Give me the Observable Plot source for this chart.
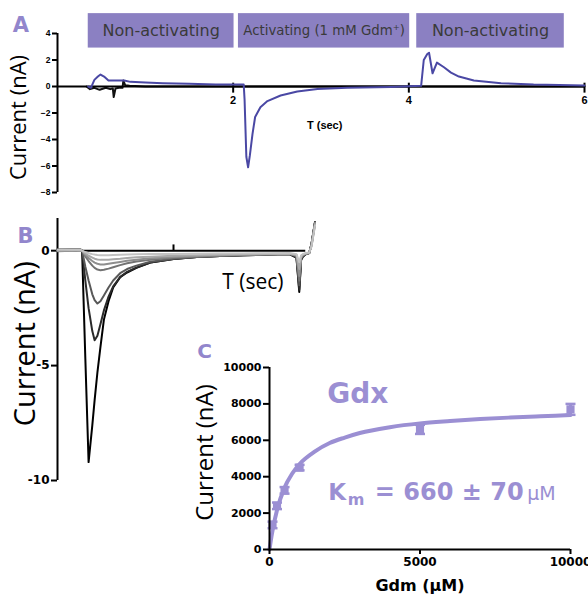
<!DOCTYPE html>
<html><head><meta charset="utf-8">
<script src="https://cdn.jsdelivr.net/npm/d3@7"></script>
<script src="https://cdn.jsdelivr.net/npm/@observablehq/plot@0.6"></script>
<style>
body{margin:0;background:#fff;}
#wrap{position:relative;width:588px;height:596px;overflow:hidden;background:#fff;}
#wrap svg{position:absolute;max-width:none;}
</style></head><body><div id="wrap"></div>
<script>
// ---------- Panel A data ----------
const phaseLabels = ["Non-activating", "Activating (1 mM Gdm⁺)", "Non-activating"];
const phaseStart = [0.35, 2.06, 4.09];
const phaseEnd = [2.01, 4.01, 5.77];
const aTimeGdm = [0.35, 0.38, 0.42, 0.46, 0.49, 0.53, 0.58, 0.65, 0.76, 0.83, 1.0, 1.2, 1.5, 1.8, 2.12, 2.13, 2.15, 2.17, 2.19, 2.22, 2.25, 2.31, 2.39, 2.54, 2.73, 2.96, 3.3, 3.8, 4.14, 4.17, 4.21, 4.23, 4.27, 4.32, 4.4, 4.48, 4.57, 4.74, 5.05, 5.42, 6.0];
const aCurrentGdm = [0, -0.1, 0.5, 0.75, 0.9, 0.75, 0.45, 0.45, 0.45, 0.35, 0.3, 0.25, 0.2, 0.15, 0.15, -1.0, -5.3, -6.1, -5.2, -3.6, -2.3, -1.56, -1.1, -0.68, -0.38, -0.18, -0.1, -0.03, 0.05, 2.0, 2.45, 2.55, 1.0, 1.8, 1.45, 1.05, 0.75, 0.45, 0.25, 0.15, 0.08];
const aTimeCtrl = [0.33, 0.37, 0.42, 0.48, 0.55, 0.6, 0.63, 0.64, 0.66, 0.7, 0.74, 0.75, 0.77, 0.82, 1.0, 1.5, 2.0, 3.0, 4.0, 5.0, 6.0];
const aCurrentCtrl = [0, -0.2, -0.1, -0.25, -0.1, -0.2, -0.15, -0.8, -0.15, -0.1, -0.1, 0.45, 0.1, 0.05, 0, 0, 0, 0, 0, 0, 0];
const aTicksX = [2, 4, 6];
const aTicksY = [4, 2, 0, -2, -4, -6, -8];

// ---------- Panel B data ----------
const bTime = [0, 0.6, 1.0, 1.06, 1.2, 1.34, 1.5, 1.6, 1.72, 1.85, 2.0, 2.2, 2.4, 2.7, 3.0, 3.4, 4.0, 5.0, 6.0, 7.0, 8.0, 9.0, 10.0, 10.3, 10.42, 10.5, 10.58, 10.7, 10.85, 10.95, 11.1];
const bTrace1 = [0.05, 0.04, 0.04, 0, -0.06, -0.11, -0.15, -0.17, -0.19, -0.2, -0.2, -0.2, -0.19, -0.18, -0.17, -0.16, -0.15, -0.14, -0.13, -0.12, -0.12, -0.11, -0.1, -0.15, -0.5, -0.2, -0.15, -0.1, -0.08, 0.2, 1.1];
const bTrace2 = [0.0, 0.02, 0.0, 0, -0.12, -0.22, -0.3, -0.35, -0.38, -0.4, -0.4, -0.39, -0.37, -0.35, -0.32, -0.29, -0.26, -0.22, -0.2, -0.18, -0.16, -0.15, -0.13, -0.18, -0.8, -0.25, -0.17, -0.12, -0.09, 0.2, 1.15];
const bTrace3 = [0.02, 0.0, 0.02, 0, -0.18, -0.32, -0.45, -0.52, -0.57, -0.6, -0.6, -0.57, -0.54, -0.49, -0.44, -0.39, -0.33, -0.27, -0.23, -0.2, -0.18, -0.16, -0.14, -0.2, -1.1, -0.3, -0.18, -0.13, -0.09, 0.25, 1.2];
const bTrace4 = [-0.02, 0.0, 0.0, 0, -0.25, -0.45, -0.65, -0.75, -0.82, -0.85, -0.83, -0.78, -0.72, -0.63, -0.55, -0.47, -0.39, -0.31, -0.26, -0.22, -0.19, -0.17, -0.15, -0.22, -1.3, -0.3, -0.2, -0.14, -0.1, 0.25, 1.2];
const bTrace5 = [0.0, 0.03, 0.0, 0, -0.7, -1.3, -1.9, -2.15, -2.3, -2.2, -1.95, -1.6, -1.3, -0.98, -0.8, -0.65, -0.48, -0.35, -0.28, -0.23, -0.2, -0.17, -0.15, -0.25, -1.5, -0.35, -0.22, -0.15, -0.1, 0.3, 1.25];
const bTrace6 = [0.03, 0.02, 0.02, 0, -1.3, -2.5, -3.5, -3.9, -3.7, -3.2, -2.6, -2.0, -1.55, -1.15, -0.92, -0.74, -0.52, -0.36, -0.28, -0.23, -0.2, -0.17, -0.15, -0.3, -1.7, -0.4, -0.25, -0.15, -0.1, 0.3, 1.25];
const bTrace7 = [0.05, 0.05, 0.05, 0, -4.7, -9.2, -7.6, -6.5, -5.3, -4.2, -3.0, -2.2, -1.6, -1.15, -0.95, -0.75, -0.52, -0.36, -0.28, -0.23, -0.2, -0.17, -0.15, -0.3, -1.8, -0.4, -0.25, -0.15, -0.1, 0.3, 1.25];
const bTraceColors = ["#c2c2c2", "#a8a8a8", "#8e8e8e", "#737373", "#585858", "#2a2a2a", "#000000"];
const bTicksY = [0, -5, -10];
const bTicksX = [5];

// ---------- Panel C data ----------
const cConc = [100, 250, 500, 1000, 5000, 10000];
const cCurrent = [1350, 2400, 3250, 4500, 6600, 7700];
const cError = [180, 180, 180, 150, 250, 300];
const fitConc = [0, 50, 100, 250, 500, 750, 1000, 1500, 2000, 2500, 3000, 4000, 5000, 6000, 7000, 8000, 9000, 10000];
const fitCurrent = [0, 560, 1030, 2170, 3400, 4160, 4700, 5380, 5850, 6150, 6400, 6720, 6930, 7060, 7170, 7250, 7320, 7390];
const cTicksY = [0, 2000, 4000, 6000, 8000, 10000];
const cTicksX = [0, 5000, 10000];

// ---------- styles ----------
const wrap = document.getElementById("wrap");
const purple = "#9286cc";
const boxFill = "#8b80c2";
const traceBlue = "#4a48a4";
const fitPurple = "#9b8fd3";
const sans = "'DejaVu Sans', sans-serif";
const sansLight = "'Open Sans', 'DejaVu Sans', sans-serif";
const arialBold = "'Liberation Sans', Arial, sans-serif";
const tr = {background: "transparent", overflow: "visible"};
function place(svg, left, top) {
  svg.style.left = left + "px";
  svg.style.top = top + "px";
  wrap.appendChild(svg);
}

// ---------- Panel A ----------
const phases = phaseLabels.map((label, i) => ({label, t0: phaseStart[i], t1: phaseEnd[i]}));
const aGdm = aTimeGdm.map((t, i) => ({t, v: aCurrentGdm[i]}));
const aCtrl = aTimeCtrl.map((t, i) => ({t, v: aCurrentCtrl[i]}));

const plotA = Plot.plot({
  width: 588, height: 200,
  marginLeft: 57, marginRight: 4, marginTop: 33, marginBottom: 8,
  style: tr,
  x: {domain: [0, 6], axis: null},
  y: {domain: [-8, 4]},
  marks: [
    Plot.rect(phases, {x1: "t0", x2: "t1", y1: 2.9, y2: 5.5, fill: boxFill}),
    Plot.text(phases, {x: d => (d.t0 + d.t1) / 2, y: 4.2, text: "label", fill: "#3a3a3a",
      fontFamily: sans, fontSize: d => d.label.length > 15 ? 13.3 : 16}),
    Plot.ruleX([0], {y1: -8, y2: 4, stroke: "#000", strokeWidth: 2}),
    Plot.axisY(aTicksY, {label: null, tickSize: 5, tickPadding: 2, fontSize: 8.5, fontWeight: "bold", fontFamily: arialBold, strokeWidth: 2, color: "#000"}),
    Plot.line(aCtrl, {x: "t", y: "v", stroke: "#111", strokeWidth: 2}),
    Plot.ruleY([0], {x1: 0, x2: 6, stroke: "#000", strokeWidth: 2}),
    Plot.ruleX(aTicksX, {x: d => d, y1: 0.25, y2: -0.5, stroke: "#000", strokeWidth: 2}),
    Plot.text(aTicksX, {x: d => d, y: 0, dy: 14, text: d => String(d), fontWeight: "bold", fontSize: 11, fontFamily: arialBold}),
    Plot.line(aGdm, {x: "t", y: "v", stroke: traceBlue, strokeWidth: 2}),
    Plot.text(["T (sec)"], {x: 2.84, y: -2.95, text: d => d, textAnchor: "start", fontWeight: "bold", fontSize: 11, fontFamily: arialBold}),
    Plot.text(["Current (nA)"], {x: -0.444, y: -2.34, text: d => d, rotate: -90, fontSize: 22, fontFamily: sansLight}),
    Plot.text(["A"], {x: -0.51, y: 4.08, text: d => d, textAnchor: "start", lineAnchor: "bottom", fill: purple, fontWeight: "bold", fontSize: 21, fontFamily: sans})
  ]
});
place(plotA, 0, 0);

// ---------- Panel B ----------
const bSeries = [bTrace7, bTrace6, bTrace5, bTrace4, bTrace3, bTrace2, bTrace1];
const bColors = [...bTraceColors].reverse();
const bData = bSeries.flatMap((arr, k) => arr.map((v, i) => ({t: bTime[i], v, k})));

const plotB = Plot.plot({
  width: 330, height: 290,
  marginLeft: 57, marginRight: 15, marginTop: 18, marginBottom: 10,
  style: tr,
  x: {domain: [0, 11.12], axis: null},
  y: {domain: [-10, 1.4]},
  marks: [
    Plot.ruleX([0], {y1: -10, y2: 1.4, stroke: "#000", strokeWidth: 2}),
    Plot.axisY(bTicksY, {label: null, tickSize: 6, tickPadding: 2, fontSize: 12, fontWeight: "bold", fontFamily: sans, strokeWidth: 2, color: "#000", tickFormat: d => String(d)}),
    Plot.ruleY([0], {x1: 0, x2: 10.7, stroke: "#000", strokeWidth: 2}),
    Plot.ruleX(bTicksX, {x: d => d, y1: 0, y2: 0.25, stroke: "#000", strokeWidth: 2}),
    ...bSeries.map((arr, k) => Plot.line(bData.filter(d => d.k === k), {x: "t", y: "v", stroke: bColors[k], strokeWidth: 2})),
    Plot.text(["T (sec)"], {x: 7.1, y: -1.65, text: d => d, textAnchor: "start", lineAnchor: "bottom", fontSize: 21, fontFamily: sansLight}),
    Plot.text(["Current (nA)"], {x: -1.38, y: -4.05, text: d => d, rotate: -90, fontSize: 29, fontFamily: sansLight}),
    Plot.text(["B"], {x: -1.72, y: 0.35, text: d => d, textAnchor: "start", lineAnchor: "bottom", fill: purple, fontWeight: "bold", fontSize: 21, fontFamily: sans})
  ]
});
place(plotB, 0, 200);

// ---------- Panel C ----------
const cPoints = cConc.map((c, i) => ({c, v: cCurrent[i], e: cError[i]}));
const fit = fitConc.map((c, i) => ({c, v: fitCurrent[i]}));
const capSymbol = {draw(ctx, size) { const w = Math.sqrt(size) / 1.7725; ctx.moveTo(-w, 0); ctx.lineTo(w, 0); }};

const plotC = Plot.plot({
  width: 398, height: 256,
  marginLeft: 79, marginRight: 18, marginTop: 27, marginBottom: 47,
  style: tr,
  x: {domain: [0, 10000]},
  y: {domain: [0, 10000]},
  marks: [
    Plot.line(fit, {x: "c", y: "v", stroke: fitPurple, strokeWidth: 4, curve: "monotone-x"}),
    Plot.ruleX(cPoints, {x: "c", y1: d => d.v - d.e, y2: d => d.v + d.e, stroke: fitPurple, strokeWidth: 3}),
    Plot.dot(cPoints, {x: "c", y: d => d.v + d.e, symbol: capSymbol, r: 5, stroke: fitPurple, strokeWidth: 2.5}),
    Plot.dot(cPoints, {x: "c", y: d => d.v - d.e, symbol: capSymbol, r: 5, stroke: fitPurple, strokeWidth: 2.5}),
    Plot.dot(cPoints, {x: "c", y: "v", symbol: "square", r: 4.6, fill: fitPurple}),
    Plot.ruleX([0], {y1: 0, y2: 10000, stroke: "#000", strokeWidth: 2}),
    Plot.ruleY([0], {x1: 0, x2: 10000, stroke: "#000", strokeWidth: 2}),
    Plot.axisY(cTicksY, {label: null, tickSize: 6, tickPadding: 2, fontSize: 11, fontWeight: "bold", fontFamily: sans, strokeWidth: 2, color: "#000", tickFormat: d => String(d)}),
    Plot.axisX(cTicksX, {label: null, tickSize: 5, tickPadding: 3, fontSize: 12, fontWeight: "bold", fontFamily: sans, strokeWidth: 2, color: "#000", tickFormat: d => String(d)}),
    Plot.text(["Gdm (μM)"], {frameAnchor: "bottom", dy: 41, text: d => d, lineAnchor: "bottom", fontSize: 16, fontWeight: "bold", fontFamily: sans}),
    Plot.text(["Current (nA)"], {x: -2138, y: 5330, text: d => d, rotate: -90, fontSize: 24, fontFamily: sansLight}),
    Plot.text(["C"], {x: -2404, y: 10495, text: d => d, textAnchor: "start", lineAnchor: "bottom", fill: purple, fontWeight: "bold", fontSize: 20, fontFamily: sans}),
    Plot.text(["Gdx"], {x: 1919, y: 8022, text: d => d, textAnchor: "start", lineAnchor: "bottom", fill: fitPurple, fontWeight: "bold", fontSize: 28, fontFamily: sans}),
    Plot.text(["K"], {x: 1952, y: 2720, text: d => d, textAnchor: "start", lineAnchor: "bottom", fill: fitPurple, fontWeight: "bold", fontSize: 23, fontFamily: sans}),
    Plot.text(["m"], {x: 2600, y: 2418, text: d => d, textAnchor: "start", lineAnchor: "bottom", fill: fitPurple, fontWeight: "bold", fontSize: 16, fontFamily: sans}),
    Plot.text(["= 660 ± 70"], {x: 3500, y: 2720, text: d => d, textAnchor: "start", lineAnchor: "bottom", fill: fitPurple, fontWeight: "bold", fontSize: 24, fontFamily: sans}),
    Plot.text(["μM"], {x: 8560, y: 2720, text: d => d, textAnchor: "start", lineAnchor: "bottom", fill: fitPurple, fontSize: 19, fontFamily: sans})
  ]
});
place(plotC, 190, 340);
</script></body></html>
